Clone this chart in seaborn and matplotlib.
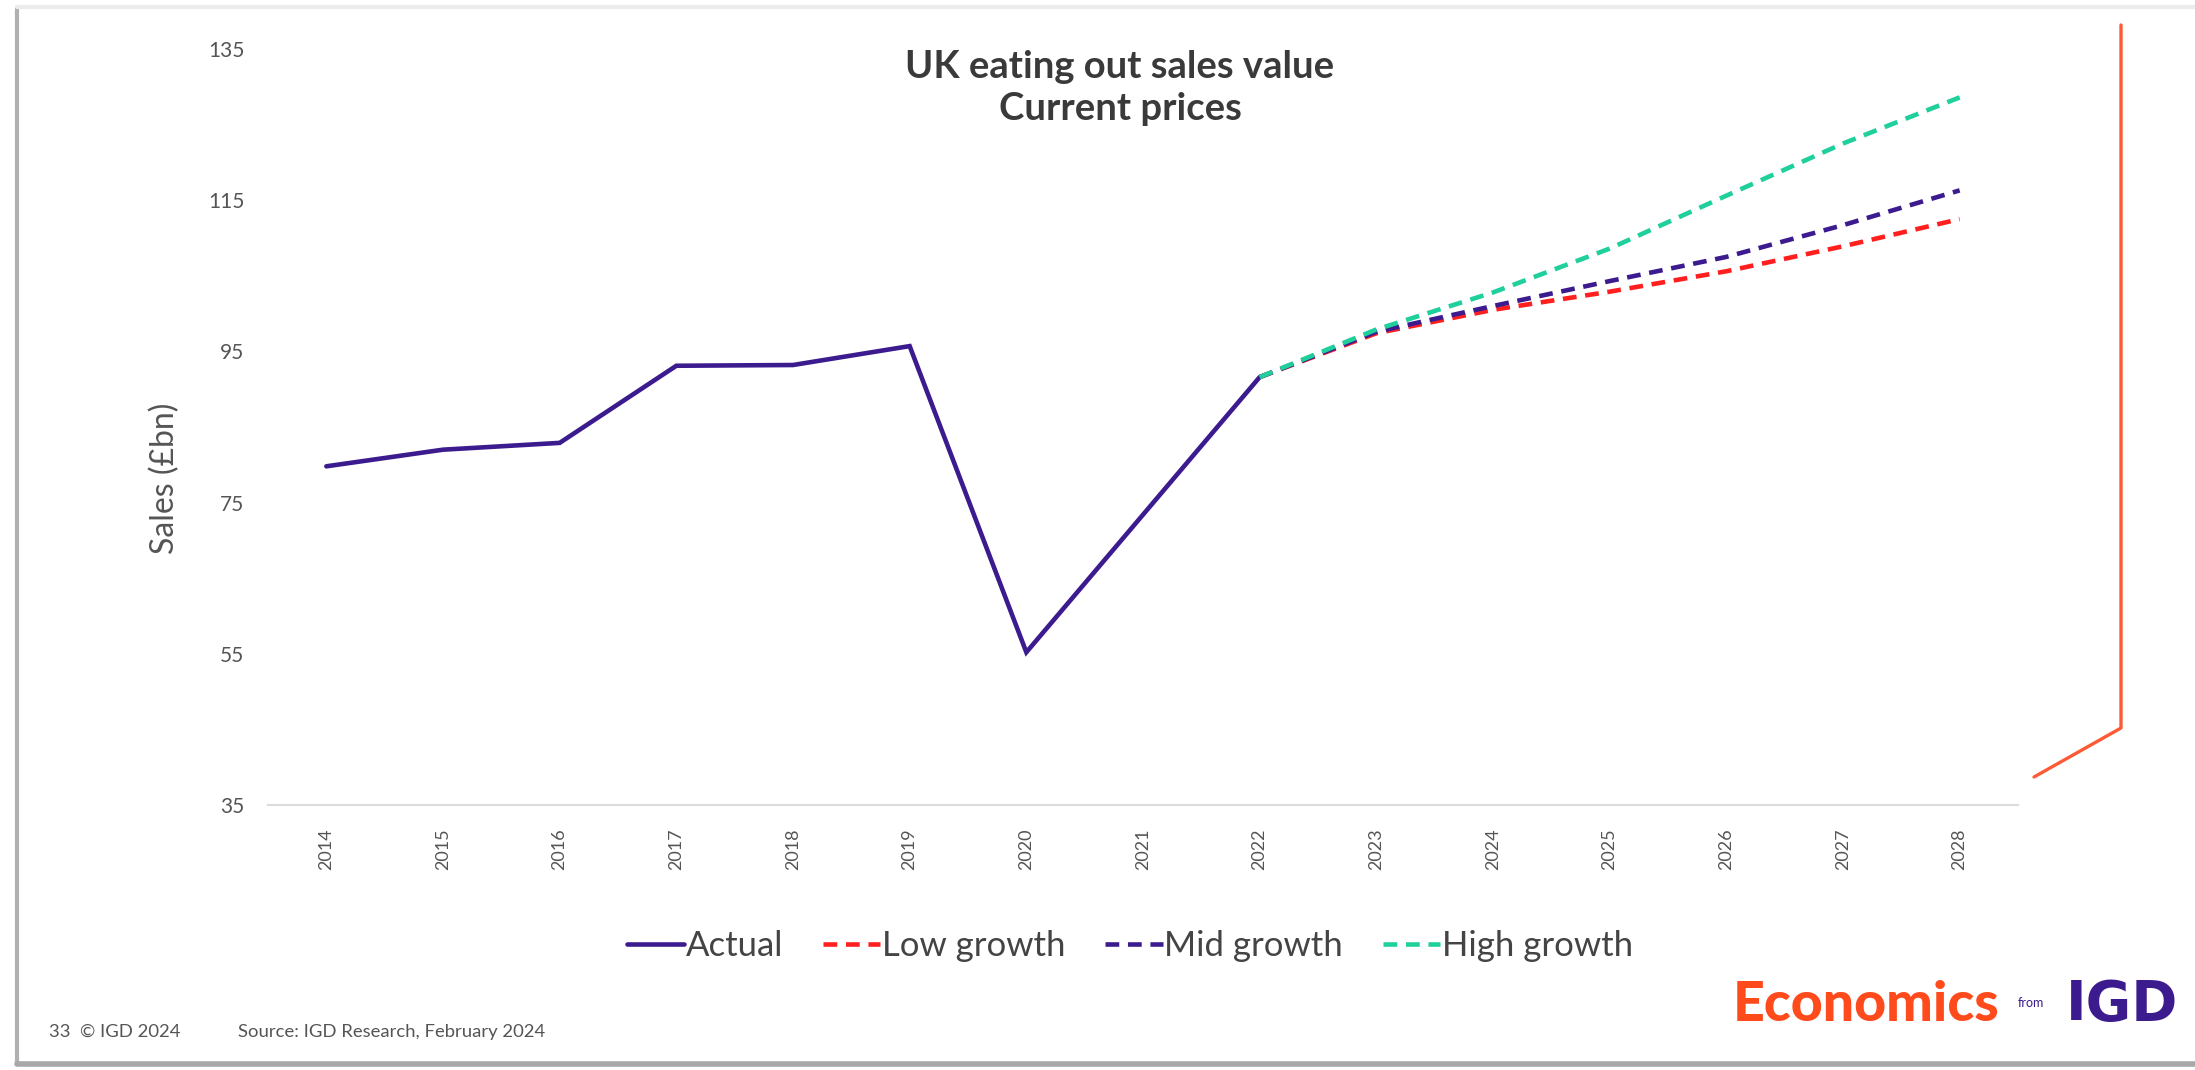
import matplotlib
matplotlib.use("Agg")
import matplotlib.pyplot as plt
from matplotlib.lines import Line2D
import seaborn as sns
import pandas as pd

# ---- data ----
years_actual = [2014, 2015, 2016, 2017, 2018, 2019, 2020, 2021, 2022]
actual = [79.8, 82.0, 82.9, 93.1, 93.2, 95.7, 55.2, 73.4, 91.6]

years_forecast = [2022, 2023, 2024, 2025, 2026, 2027, 2028]
low_growth = [91.6, 97.4, 100.5, 102.9, 105.6, 108.9, 112.5]
mid_growth = [91.6, 97.6, 101.0, 104.3, 107.5, 111.7, 116.3]
high_growth = [91.6, 97.9, 102.8, 108.6, 115.6, 122.5, 128.6]

all_years = list(range(2014, 2029))
y_ticks = [35, 55, 75, 95, 115, 135]

title_lines = ["UK eating out sales value", "Current prices"]
y_label = "Sales (£bn)"
footer_left = "33  © IGD 2024"
footer_source = "Source: IGD Research, February 2024"

PURPLE = "#3b1b8e"
RED = "#ff1f1f"
GREEN = "#1fcf9c"
ORANGE = "#ff4a1c"
GREY_TXT = "#555555"

sns.set_theme(style="white")
plt.rcParams["font.family"] = ["Lato", "DejaVu Sans"]

W, H = 2195, 1070
fig = plt.figure(figsize=(W / 100, H / 100), dpi=100)
fig.patch.set_facecolor("white")

left, right, top, bottom = 268, 2018, 49, 805
ax = fig.add_axes([left / W, 1 - bottom / H, (right - left) / W, (bottom - top) / H])
ax.set_facecolor("white")

df_a = pd.DataFrame({"year": years_actual, "value": actual})
df_f = pd.DataFrame({"year": years_forecast, "low": low_growth,
                     "mid": mid_growth, "high": high_growth})

dash = (0, (3.0, 1.9))
sns.lineplot(data=df_a, x="year", y="value", ax=ax, color=PURPLE, lw=3.3,
             label="Actual", solid_joinstyle="miter")
sns.lineplot(data=df_f, x="year", y="low", ax=ax, color=RED, lw=3.3,
             linestyle=dash, label="Low growth")
sns.lineplot(data=df_f, x="year", y="mid", ax=ax, color=PURPLE, lw=3.3,
             linestyle=dash, label="Mid growth")
sns.lineplot(data=df_f, x="year", y="high", ax=ax, color=GREEN, lw=3.3,
             linestyle=dash, label="High growth")

ax.set_xlim(2013.5, 2028.5)
ax.set_ylim(35, 135)
ax.set_xticks(all_years)
ax.set_xticklabels([str(y) for y in all_years], rotation=90, fontsize=13,
                   color=GREY_TXT)
ax.set_yticks(y_ticks)
ax.set_yticklabels([str(v) for v in y_ticks], fontsize=15, color=GREY_TXT)
ax.tick_params(axis="both", length=0)
ax.tick_params(axis="y", pad=17)
ax.tick_params(axis="x", pad=17)
ax.set_xlabel("")
ax.set_ylabel(y_label, fontsize=23, color=GREY_TXT)
ax.yaxis.set_label_coords(-0.05, 0.4325)

for s in ["top", "right", "left"]:
    ax.spines[s].set_visible(False)
ax.spines["bottom"].set_color("#dcdcdc")
ax.spines["bottom"].set_linewidth(1.5)

# legend
handles, labels = ax.get_legend_handles_labels()
ax.get_legend().remove()
leg = fig.legend(handles, labels, loc="center", bbox_to_anchor=(1130 / W, 1 - 946 / H),
                 ncol=4, frameon=False, fontsize=25, handlelength=1.65,
                 handletextpad=0.05, columnspacing=1.15)
for t in leg.get_texts():
    t.set_color("#444444")

# title
fig.text(1120 / W, 1 - 67 / H, title_lines[0], ha="center", va="center",
         fontsize=27.5, fontweight="bold", color="#3a3a3a")
fig.text(1120 / W, 1 - 109 / H, title_lines[1], ha="center", va="center",
         fontsize=27.5, fontweight="bold", color="#3a3a3a")

# footer
fig.text(49 / W, 1 - 1032 / H, footer_left, ha="left", va="center",
         fontsize=13.3, color=GREY_TXT)
fig.text(238 / W, 1 - 1032 / H, footer_source, ha="left", va="center",
         fontsize=13.3, color=GREY_TXT)

# logo
fig.text(1733 / W, 1 - 1005 / H, "Economics", ha="left", va="center",
         fontsize=40, fontweight="black", color=ORANGE)
fig.text(2018 / W, 1 - 1003 / H, "from", ha="left", va="center",
         fontsize=9, color=PURPLE)
fig.text(2066 / W, 1 - 1005 / H, "IGD", ha="left", va="center",
         fontsize=40, fontweight="bold", color=PURPLE,
         family=["DejaVu Sans"])

# decorative orange bracket
fig.add_artist(Line2D([2034 / W, 2121 / W, 2121 / W],
                      [1 - 777 / H, 1 - 728 / H, 1 - 25 / H],
                      color="#ff5a36", lw=2.4, transform=fig.transFigure))

# slide frame
fig.add_artist(Line2D([17 / W, 17 / W], [1 - 8 / H, 1 - 1064 / H],
                      color="#b0b0b0", lw=3, transform=fig.transFigure))
fig.add_artist(Line2D([17 / W, 1.0], [1 - 1064 / H, 1 - 1064 / H],
                      color="#a8a8a8", lw=4, transform=fig.transFigure))
fig.add_artist(Line2D([17 / W, 1.0], [1 - 7 / H, 1 - 7 / H],
                      color="#ececec", lw=3, transform=fig.transFigure))

fig.savefig("out.png", dpi=100, facecolor="white")
